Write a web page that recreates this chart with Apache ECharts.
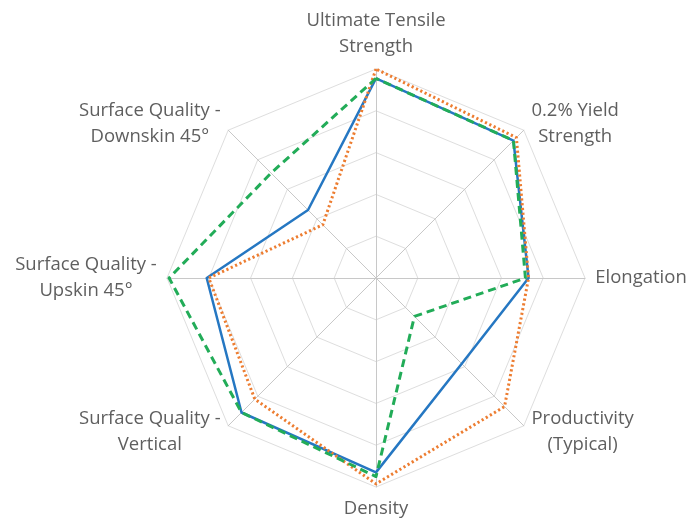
<!DOCTYPE html>
<html>
<head>
<meta charset="utf-8">
<script src="https://cdn.jsdelivr.net/npm/echarts@6/dist/echarts.min.js"></script>
<style>
html,body{margin:0;padding:0;background:#fff;}
#chart{width:695px;height:521px;}
</style>
</head>
<body>
<div id="chart"></div>
<script>
// Indicators listed counter-clockwise from the top (ECharts radar order)
const indicatorNames = [
  'Ultimate Tensile\nStrength',
  'Surface Quality -\nDownskin 45°',
  'Surface Quality -\nUpskin 45°',
  'Surface Quality -\nVertical',
  'Density',
  'Productivity\n(Typical)',
  'Elongation',
  '0.2% Yield\nStrength'
];
const blueValues   = [95.5, 46, 81, 91, 93, 58, 73, 93];
const orangeValues = [100, 36, 80, 82, 98.5, 87, 73, 95];
const greenValues  = [95.5, 71, 99, 91, 95, 26, 71.5, 93];
const seriesNames = ['Series 1', 'Series 2', 'Series 3'];

const FONT_SIZE = 18.5;
const FONT_FAMILY = '"Open Sans", sans-serif';
const ctx = document.createElement('canvas').getContext('2d');
ctx.font = FONT_SIZE + 'px ' + FONT_FAMILY;
const rich = {};
const nameToRich = {};
indicatorNames.forEach((n, i) => {
  const lines = n.split('\n');
  const w = Math.ceil(Math.max(...lines.map(l => ctx.measureText(l).width))) + 2;
  const key = 'r' + i;
  rich[key] = { width: w, align: 'center', fontSize: FONT_SIZE, lineHeight: 26, color: '#5f5f5f', fontFamily: FONT_FAMILY };
  nameToRich[n] = lines.map(l => '{' + key + '|' + l + '}').join('\n');
});

const chart = echarts.init(document.getElementById('chart'), null, { renderer: 'canvas' });
chart.setOption({
  backgroundColor: '#ffffff',
  animation: false,
  radar: {
    center: [376, 278],
    radius: 209,
    startAngle: 90,
    shape: 'polygon',
    splitNumber: 5,
    nameGap: 9,
    indicator: indicatorNames.map(n => ({ name: n, min: 0, max: 100 })),
    axisName: {
      formatter: (name) => nameToRich[name],
      rich: rich,
      color: '#5f5f5f',
      fontSize: FONT_SIZE,
      fontFamily: FONT_FAMILY,
      lineHeight: 26
    },
    axisLine: { lineStyle: { color: '#c8c8c8', width: 1 } },
    splitLine: { lineStyle: { color: '#dedede', width: 1 } },
    splitArea: { show: false },
    axisTick: { show: false },
    axisLabel: { show: false }
  },
  series: [{
    type: 'radar',
    symbol: 'none',
    data: [
      { name: seriesNames[0], value: blueValues,
        lineStyle: { color: '#2577c2', width: 2.5, type: 'solid' } },
      { name: seriesNames[1], value: orangeValues,
        lineStyle: { color: '#ed7d31', width: 3, type: [2.2, 2.6], cap: 'butt' } },
      { name: seriesNames[2], value: greenValues,
        lineStyle: { color: '#22ac58', width: 3, type: [8, 5] } }
    ]
  }]
});
</script>
</body>
</html>
